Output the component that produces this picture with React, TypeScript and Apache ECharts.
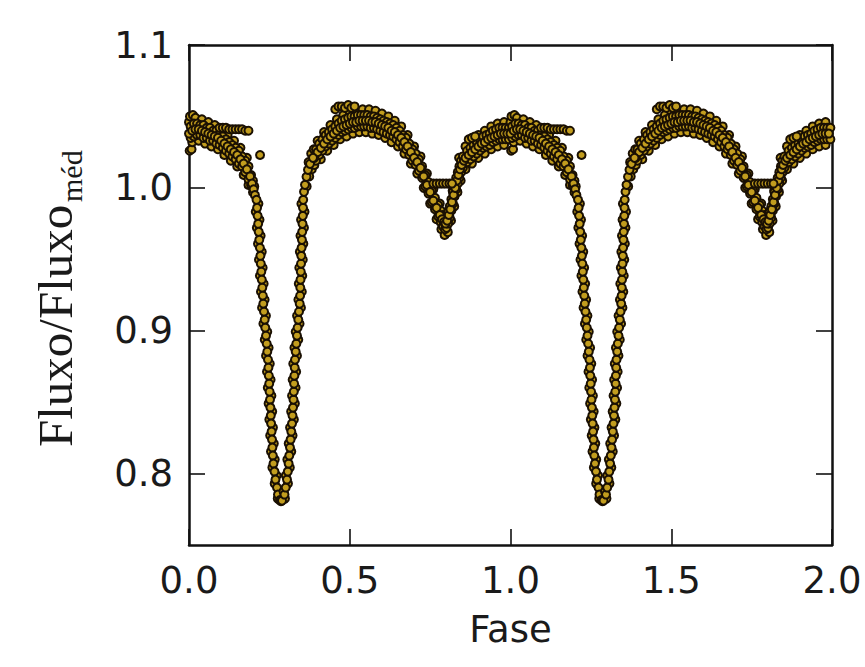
import React, { useEffect, useRef } from "react";
import * as echarts from "echarts";

// Axis ticks and ranges
const xTicks = [0.0, 0.5, 1.0, 1.5, 2.0];
const yTicks = [0.8, 0.9, 1.0, 1.1];
const phaseRange = [0, 2];
const fluxRange = [0.75, 1.1];
// the light curve is shown over two cycles (phase and phase + 1)
const cycleOffsets = [0, 1];

// Phase-folded photometry: [phase, relative flux]
const centerTrack = [
  [0.000,1.038],[0.010,1.040],[0.020,1.041],[0.030,1.041],[0.040,1.040],[0.050,1.039],[0.060,1.038],[0.070,1.037],
  [0.080,1.036],[0.090,1.035],[0.100,1.033],[0.110,1.031],[0.120,1.029],[0.130,1.027],[0.140,1.025],[0.150,1.023],
  [0.160,1.020],[0.170,1.017],[0.180,1.013],[0.190,1.008],[0.196,1.003],[0.201,0.999],[0.205,0.995],
  [0.390,1.021],[0.400,1.025],[0.410,1.028],[0.420,1.031],[0.430,1.034],[0.440,1.036],[0.450,1.038],[0.460,1.040],
  [0.470,1.042],[0.480,1.043],[0.490,1.044],[0.500,1.045],[0.510,1.046],[0.520,1.046],[0.530,1.047],[0.540,1.047],
  [0.550,1.047],[0.560,1.047],[0.570,1.046],[0.580,1.046],[0.590,1.045],[0.600,1.044],[0.610,1.043],[0.620,1.042],
  [0.630,1.040],[0.640,1.039],[0.650,1.037],[0.660,1.035],[0.670,1.032],[0.680,1.029],[0.690,1.025],[0.700,1.021],
  [0.710,1.018],[0.720,1.014],[0.730,1.008],[0.740,1.002],[0.750,0.997],[0.760,0.991],[0.770,0.986],[0.780,0.981],
  [0.787,0.978],[0.793,0.976],[0.798,0.975],[0.803,0.977],[0.808,0.981],[0.813,0.985],[0.818,0.990],[0.823,0.995],
  [0.828,1.000],[0.833,1.005],[0.838,1.009],[0.843,1.013],[0.848,1.016],[0.855,1.019],[0.860,1.021],[0.870,1.023],
  [0.880,1.025],[0.890,1.027],[0.900,1.029],[0.910,1.031],[0.920,1.032],[0.930,1.034],[0.940,1.035],[0.950,1.036],
  [0.960,1.037],[0.970,1.038],[0.980,1.038],[0.990,1.038]
];

const upperTrack = [
  [0.005,1.043],[0.015,1.045],[0.025,1.045],[0.035,1.044],[0.045,1.044],[0.055,1.042],[0.065,1.042],[0.075,1.040],
  [0.085,1.040],[0.095,1.038],[0.105,1.036],[0.115,1.034],[0.125,1.032],[0.135,1.030],[0.145,1.028],[0.155,1.026],
  [0.165,1.022],[0.175,1.019],[0.185,1.015],[0.193,1.009],[0.199,1.005],[0.203,1.001],
  [0.372,1.018],[0.380,1.024],[0.388,1.027],
  [0.395,1.027],[0.405,1.031],[0.415,1.034],[0.425,1.037],[0.435,1.039],[0.445,1.041],[0.455,1.043],[0.465,1.045],
  [0.475,1.047],[0.485,1.048],[0.495,1.049],[0.505,1.050],[0.515,1.050],[0.525,1.051],[0.535,1.051],[0.545,1.051],
  [0.555,1.051],[0.565,1.050],[0.575,1.050],[0.585,1.049],[0.595,1.048],[0.605,1.047],[0.615,1.046],[0.625,1.045],
  [0.635,1.044],[0.645,1.042],[0.655,1.040],[0.665,1.037],[0.675,1.035],[0.685,1.031],[0.695,1.027],[0.705,1.024],
  [0.715,1.020],[0.725,1.015],[0.735,1.009],[0.745,1.004],[0.755,0.998],[0.765,0.993],[0.775,0.988],[0.783,0.984],
  [0.790,0.981],[0.796,0.979],[0.801,0.980],[0.806,0.983],[0.811,0.987],[0.816,0.992],[0.821,0.997],[0.826,1.002],
  [0.831,1.007],[0.836,1.011],[0.841,1.015],[0.846,1.019],[0.852,1.022],[0.865,1.026],[0.875,1.028],[0.885,1.030],
  [0.895,1.032],[0.905,1.034],[0.915,1.036],[0.925,1.037],[0.935,1.038],[0.945,1.040],[0.955,1.041],[0.965,1.042],
  [0.975,1.042],[0.985,1.042],[0.995,1.042]
];

const lowerTrack = [
  [0.005,1.035],[0.015,1.036],[0.025,1.037],[0.035,1.037],[0.045,1.035],[0.055,1.035],[0.065,1.033],[0.075,1.033],
  [0.085,1.031],[0.095,1.030],[0.105,1.028],[0.115,1.026],[0.125,1.024],[0.135,1.022],[0.145,1.020],[0.155,1.017],
  [0.165,1.015],[0.175,1.011],[0.185,1.006],[0.193,1.002],[0.199,0.997],
  [0.366,1.001],[0.374,1.008],[0.382,1.013],[0.390,1.016],
  [0.395,1.019],[0.405,1.023],[0.415,1.026],[0.425,1.029],[0.435,1.031],[0.445,1.033],[0.455,1.035],[0.465,1.037],
  [0.475,1.039],[0.485,1.040],[0.495,1.041],[0.505,1.042],[0.515,1.042],[0.525,1.043],[0.535,1.043],[0.545,1.043],
  [0.555,1.043],[0.565,1.042],[0.575,1.042],[0.585,1.041],[0.595,1.040],[0.605,1.039],[0.615,1.038],[0.625,1.037],
  [0.635,1.036],[0.645,1.034],[0.655,1.032],[0.665,1.029],[0.675,1.027],[0.685,1.023],[0.695,1.019],[0.705,1.016],
  [0.715,1.012],[0.725,1.007],[0.735,1.001],[0.745,0.996],[0.755,0.990],[0.765,0.985],[0.775,0.980],[0.783,0.976],
  [0.790,0.973],[0.796,0.971],[0.801,0.972],[0.806,0.975],[0.811,0.979],[0.816,0.984],[0.821,0.989],[0.826,0.994],
  [0.831,0.999],[0.836,1.003],[0.841,1.007],[0.846,1.011],[0.852,1.014],[0.865,1.018],[0.875,1.020],[0.885,1.022],
  [0.895,1.024],[0.905,1.026],[0.915,1.028],[0.925,1.029],[0.935,1.030],[0.945,1.032],[0.955,1.033],[0.965,1.034],
  [0.975,1.034],[0.985,1.034],[0.995,1.034]
];

const topEdge = [
  [0.000,1.046],[0.003,1.050],[0.012,1.051],[0.020,1.049],[0.040,1.048],[0.060,1.046],[0.080,1.044],[0.100,1.041],
  [0.120,1.037],[0.140,1.033],[0.160,1.028],[0.180,1.021],
  [0.400,1.033],[0.420,1.039],[0.440,1.044],[0.460,1.048],[0.480,1.051],[0.500,1.053],[0.520,1.054],[0.540,1.055],
  [0.560,1.055],[0.580,1.054],[0.600,1.052],[0.620,1.050],[0.640,1.047],[0.660,1.043],[0.680,1.037],[0.700,1.029],
  [0.720,1.022],[0.740,1.010],[0.760,0.999],[0.780,0.989],[0.800,0.983],[0.820,0.998],[0.840,1.021],[0.860,1.029],
  [0.880,1.033],[0.900,1.037],[0.920,1.040],[0.940,1.043],[0.960,1.045],[0.980,1.046]
];

const bottomEdge = [
  [0.002,1.026],[0.008,1.027],[0.010,1.032],[0.030,1.033],[0.050,1.031],[0.070,1.029],[0.090,1.027],[0.110,1.023],
  [0.130,1.019],[0.150,1.015],[0.170,1.009],[0.185,1.002],
  [0.410,1.020],[0.430,1.026],[0.450,1.030],[0.470,1.034],[0.490,1.036],[0.510,1.038],[0.530,1.039],[0.550,1.039],
  [0.570,1.038],[0.590,1.037],[0.610,1.035],[0.630,1.032],[0.650,1.029],[0.670,1.024],[0.690,1.017],[0.710,1.010],
  [0.730,1.000],[0.750,0.989],[0.770,0.978],[0.785,0.971],[0.795,0.967],[0.805,0.969],[0.815,0.977],[0.825,0.987],
  [0.835,0.997],[0.845,1.005],[0.860,1.013],[0.880,1.017],[0.900,1.021],[0.920,1.024],[0.940,1.027],[0.960,1.029],
  [0.980,1.030]
];

// primary eclipse: ingress and egress branches
const ingressMain = [
  [0.2100,0.9916],[0.2118,0.9860],[0.2134,0.9804],[0.2152,0.9748],[0.2168,0.9692],[0.2187,0.9636],[0.2205,0.9580],
  [0.2221,0.9524],[0.2233,0.9469],[0.2249,0.9413],[0.2264,0.9357],[0.2280,0.9301],[0.2296,0.9245],[0.2311,0.9189],
  [0.2333,0.9133],[0.2354,0.9077],[0.2373,0.9021],[0.2395,0.8965],[0.2417,0.8909],[0.2435,0.8853],[0.2457,0.8797],
  [0.2470,0.8741],[0.2482,0.8685],[0.2495,0.8629],[0.2507,0.8573],[0.2519,0.8517],[0.2532,0.8462],[0.2544,0.8406],
  [0.2554,0.8350],[0.2569,0.8294],[0.2582,0.8238],[0.2594,0.8182],[0.2607,0.8126],[0.2628,0.8070],[0.2659,0.8014],
  [0.2690,0.7958],[0.2737,0.7902],[0.2768,0.7853],[0.2830,0.7815],[0.2860,0.7806]
];
const ingressSide = [
  [0.2159,0.9888],[0.2076,0.9832],[0.2193,0.9776],[0.2110,0.9720],[0.2228,0.9664],[0.2146,0.9608],[0.2263,0.9552],
  [0.2177,0.9497],[0.2291,0.9441],[0.2206,0.9385],[0.2322,0.9329],[0.2238,0.9273],[0.2352,0.9217],[0.2272,0.9161],
  [0.2393,0.9105],[0.2314,0.9049],[0.2434,0.8993],[0.2356,0.8937],[0.2476,0.8881],[0.2396,0.8825],[0.2513,0.8769],
  [0.2426,0.8713],[0.2538,0.8657],[0.2451,0.8601],[0.2563,0.8545],[0.2476,0.8490],[0.2588,0.8434],[0.2499,0.8378],
  [0.2611,0.8322],[0.2525,0.8266],[0.2638,0.8210],[0.2550,0.8154],[0.2667,0.8098],[0.2593,0.8042],[0.2724,0.7986],
  [0.2664,0.7930],[0.2805,0.7874],[0.2760,0.7825]
];
const egressMain = [
  [0.2893,0.7810],[0.2970,0.7853],[0.3008,0.7902],[0.3048,0.7958],[0.3073,0.8014],[0.3098,0.8070],[0.3120,0.8126],
  [0.3141,0.8182],[0.3160,0.8238],[0.3182,0.8294],[0.3204,0.8350],[0.3219,0.8406],[0.3235,0.8462],[0.3250,0.8517],
  [0.3260,0.8573],[0.3269,0.8629],[0.3278,0.8685],[0.3288,0.8741],[0.3297,0.8797],[0.3319,0.8853],[0.3338,0.8909],
  [0.3359,0.8965],[0.3378,0.9021],[0.3400,0.9077],[0.3421,0.9133],[0.3443,0.9189],[0.3456,0.9245],[0.3462,0.9301],
  [0.3468,0.9357],[0.3477,0.9413],[0.3484,0.9469],[0.3493,0.9524],[0.3502,0.9580],[0.3512,0.9636],[0.3521,0.9692],
  [0.3530,0.9748],[0.3540,0.9804],[0.3546,0.9860],[0.3552,0.9916],[0.3577,0.9972],[0.3608,1.0021],[0.3655,1.0077],
  [0.3701,1.0126],[0.3764,1.0168],[0.3857,1.0210]
];
const egressSide = [
  [0.2985,0.7825],[0.2940,0.7874],[0.3078,0.7930],[0.3011,0.7986],[0.3136,0.8042],[0.3059,0.8098],[0.3181,0.8154],
  [0.3101,0.8210],[0.3221,0.8266],[0.3143,0.8322],[0.3262,0.8378],[0.3177,0.8434],[0.3293,0.8490],[0.3205,0.8545],
  [0.3315,0.8601],[0.3224,0.8657],[0.3333,0.8713],[0.3243,0.8769],[0.3358,0.8825],[0.3279,0.8881],[0.3399,0.8937],
  [0.3319,0.8993],[0.3439,0.9049],[0.3361,0.9105],[0.3482,0.9161],[0.3403,0.9217],[0.3509,0.9273],[0.3415,0.9329],
  [0.3523,0.9385],[0.3431,0.9441],[0.3539,0.9497],[0.3448,0.9552],[0.3557,0.9608],[0.3467,0.9664],[0.3576,0.9720],
  [0.3485,0.9776],[0.3593,0.9832],[0.3496,0.9888]
];

// isolated points off the main band
const strayPoints = [
  [0.095,1.042],[0.105,1.042],[0.115,1.042],[0.125,1.041],[0.135,1.041],[0.145,1.041],[0.155,1.041],[0.165,1.041],
  [0.175,1.040],[0.185,1.040],[0.221,1.023],
  [0.455,1.055],[0.465,1.057],[0.475,1.057],[0.485,1.056],[0.495,1.058],[0.505,1.056],[0.515,1.057],
  [0.760,1.003],[0.770,1.003],[0.780,1.003],[0.790,1.003],[0.800,1.003],[0.810,1.003],[0.818,1.003],
  [0.870,1.034],[0.880,1.035],[0.890,1.036]
];

const tracks = [topEdge, bottomEdge, upperTrack, lowerTrack, centerTrack, ingressSide, ingressMain, egressSide, egressMain, strayPoints];

const INK = "#1a1a1a";
const axisLine = { show: true, onZero: false, lineStyle: { color: "#111", width: 2.5 } };
const tickStyle = { color: "#111", width: 1.6 };

export default function App() {
  const ref = useRef<HTMLDivElement>(null);
  useEffect(() => {
    if (!ref.current) return;
    const chart = echarts.init(ref.current, null, { renderer: "svg" });
    const points: number[][] = [];
    cycleOffsets.forEach((o) => {
      tracks.forEach((t) => t.forEach(([p, f]) => points.push([p + o, f])));
    });
    const fmt = (v: number) => v.toFixed(1);
    chart.setOption({
      animation: false,
      backgroundColor: "#ffffff",
      grid: { left: 189, right: 33, top: 45, bottom: 122 },
      xAxis: [
        {
          type: "value", position: "bottom", min: phaseRange[0], max: phaseRange[1], interval: 0.5,
          axisLine, splitLine: { show: false },
          axisTick: { inside: true, length: 16, lineStyle: tickStyle, customValues: xTicks },
          axisLabel: { customValues: xTicks, formatter: fmt, fontSize: 37, fontFamily: "DejaVu Sans", color: INK, margin: 17 },
          name: "Fase", nameLocation: "middle", nameGap: 66,
          nameTextStyle: { fontSize: 37, fontFamily: "DejaVu Sans", color: INK },
        },
        {
          type: "value", position: "top", min: phaseRange[0], max: phaseRange[1], interval: 0.5,
          axisLine, splitLine: { show: false },
          axisTick: { inside: true, length: 16, lineStyle: tickStyle, customValues: xTicks },
          axisLabel: { show: false },
        },
      ],
      yAxis: [
        {
          type: "value", position: "left", min: fluxRange[0], max: fluxRange[1],
          axisLine, splitLine: { show: false },
          axisTick: { inside: true, length: 16, lineStyle: tickStyle, customValues: yTicks },
          axisLabel: { customValues: yTicks, formatter: fmt, fontSize: 37, fontFamily: "DejaVu Sans", color: INK, margin: 16 },
        },
        {
          type: "value", position: "right", min: fluxRange[0], max: fluxRange[1],
          axisLine, splitLine: { show: false },
          axisTick: { inside: true, length: 16, lineStyle: tickStyle, customValues: yTicks },
          axisLabel: { show: false },
        },
      ],
      graphic: [
        {
          type: "group", x: 55, y: 447, rotation: Math.PI / 2,
          children: [
            { type: "text", x: 0, y: 0, style: { text: "Fluxo/Fluxo", fontSize: 49, fontFamily: "Liberation Serif", fill: INK, align: "left", verticalAlign: "middle" } },
            { type: "text", x: 245, y: 16, style: { text: "méd", fontSize: 30, fontFamily: "Liberation Serif", fill: INK, align: "left", verticalAlign: "middle" } },
          ],
        },
      ],
      series: [
        {
          type: "scatter", xAxisIndex: 0, yAxisIndex: 0, symbol: "circle", symbolSize: 8,
          itemStyle: { color: "#c29d1e", borderColor: "#1a1003", borderWidth: 2, opacity: 1 },
          data: points,
        },
      ],
    });
    return () => chart.dispose();
  }, []);
  return <div ref={ref} style={{ position: "fixed", left: 0, top: 0, width: 865, height: 667, background: "#fff" }} />;
}
